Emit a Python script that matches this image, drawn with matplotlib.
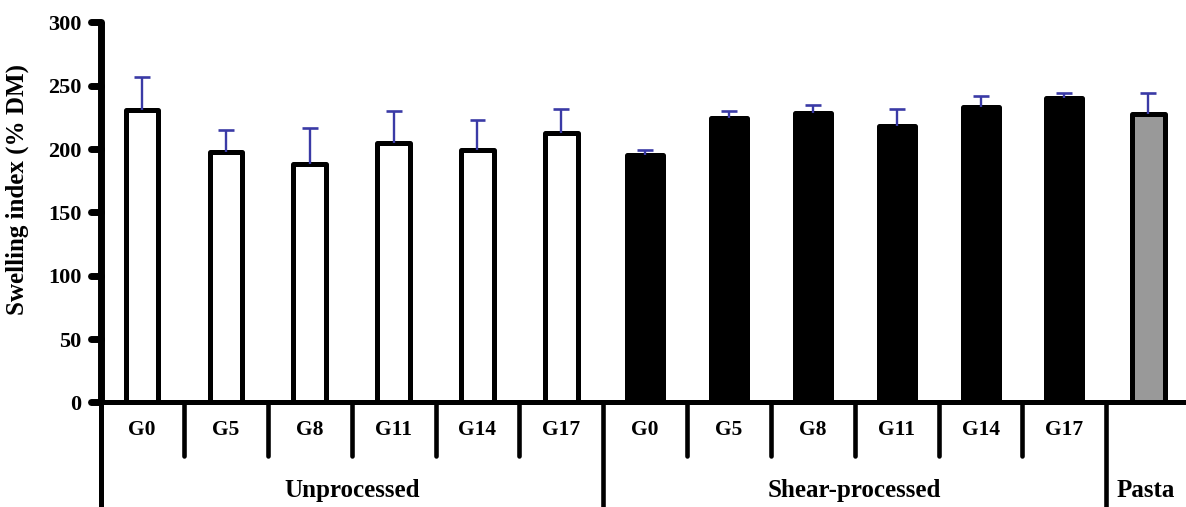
import matplotlib
matplotlib.use("Agg")
import matplotlib.pyplot as plt
import matplotlib.transforms as mtransforms

# ---- data ----
categories = ["G0", "G5", "G8", "G11", "G14", "G17",
              "G0", "G5", "G8", "G11", "G14", "G17", ""]
groups = ["Unprocessed", "Shear-processed", "Pasta"]
group_sizes = [6, 6, 1]
unprocessed = [231, 198, 188, 205, 199, 213]
unprocessed_err = [26, 17, 29, 25, 24, 19]
shear = [195, 224.5, 228.5, 218, 233.5, 240]
shear_err = [4, 5.5, 6.5, 14, 8.5, 4]
pasta = [228]
pasta_err = [16]
yticks = [0, 50, 100, 150, 200, 250, 300]

values = unprocessed + shear + pasta
errors = unprocessed_err + shear_err + pasta_err
fills = ["white"] * 6 + ["black"] * 6 + ["#999999"]

plt.rcParams['font.family'] = ['Liberation Serif', 'DejaVu Serif']
plt.rcParams['font.weight'] = 'bold'

fig = plt.figure(figsize=(11.86, 5.07), dpi=100)
ax = fig.add_axes([101 / 1186, 0.2063, 1 - 101 / 1186, 0.7495])

x = list(range(len(values)))
widths = [0.39] * 6 + [0.43] * 6 + [0.39]
ax.bar(x, values, width=widths, color=fills, edgecolor="black",
       linewidth=3.6, joinstyle="round", zorder=2)

# upward-only error bars
tops = [v + e for v, e in zip(values, errors)]
err_color = "#3a3aa6"
ax.vlines(x, values, tops, color=err_color, lw=1.7, zorder=3)
ax.hlines(tops, [i - 0.095 for i in x], [i + 0.095 for i in x],
          color=err_color, lw=1.9, zorder=3)

ax.set_xlim(-0.49, 12.45)
ax.set_ylim(0, 300)
ax.set_yticks(yticks)
ax.set_yticklabels([str(t) for t in yticks], fontsize=16, fontweight="bold")
ax.tick_params(axis="y", length=0, pad=14)
ax.set_xticks([])

for s in ["top", "right"]:
    ax.spines[s].set_visible(False)
ax.spines["left"].set_linewidth(5)
ax.spines["bottom"].set_linewidth(3.6)
ax.spines["left"].set_capstyle("butt")

ax.set_ylabel("Swelling index (% DM)", fontsize=18, fontweight="bold")
ax.yaxis.set_label_coords(-0.0662, 0.56)

# manual y tick marks with round caps
tr_ya = mtransforms.blended_transform_factory(ax.transAxes, ax.transData)
for t in yticks:
    ax.plot([-0.009, 0], [t, t], transform=tr_ya, color="black", lw=5,
            solid_capstyle="round", clip_on=False, zorder=4)

# separators below axis
tr_xa = mtransforms.blended_transform_factory(ax.transData, ax.transAxes)
short_end = -54 / 380
long_end = -106 / 380
boundaries = []
c = 0
for g in group_sizes[:-1]:
    c += g
    boundaries.append(c - 0.5)
for i in range(len(values) - 1):
    b = i + 0.5
    end = long_end if b in boundaries else short_end
    ax.plot([b, b], [0, end], transform=tr_xa, color="black", lw=3.3,
            solid_capstyle="round", clip_on=False)
# left spine extension
ax.plot([0, 0], [0, long_end], transform=ax.transAxes, color="black",
        lw=3.6, solid_capstyle="butt", clip_on=False)

# category labels
for i, lab in enumerate(categories):
    if lab:
        ax.text(i, -28 / 380, lab, transform=tr_xa, ha="center", va="center",
                fontsize=15.5, fontweight="bold")

# group labels
start = -0.5
for g, n in zip(groups, group_sizes):
    end = start + n
    xc = (start + min(end, 12.45)) / 2
    ax.text(xc, -88 / 380, g, transform=tr_xa, ha="center", va="center",
            fontsize=18, fontweight="bold")
    start = end

fig.savefig("out.png", dpi=100)
